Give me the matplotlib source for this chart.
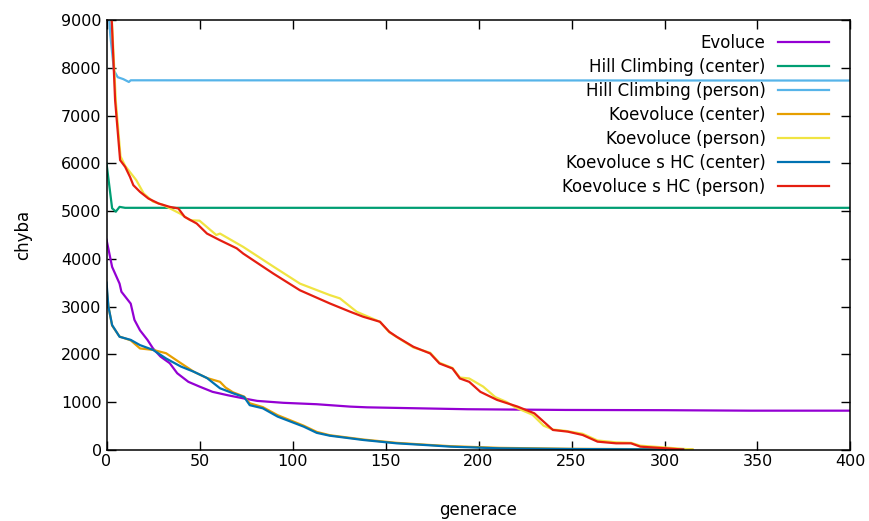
import matplotlib.pyplot as plt

# Evoluce
gen_evo = [0, 3, 7, 8, 13, 15, 18, 22, 25, 29, 34, 38, 44, 50, 57, 65, 74, 81, 95, 113, 131, 140, 160, 194, 247, 300, 346, 400]
err_evo = [4400, 3830, 3480, 3310, 3060, 2720, 2500, 2300, 2120, 1950, 1810, 1600, 1420, 1320, 1210, 1140, 1070, 1020, 980, 950, 900, 885, 870, 845, 830, 825, 815, 815]

# Hill Climbing (center)
gen_hc_c = [0, 3, 5, 7, 10, 400]
err_hc_c = [6000, 5060, 4990, 5090, 5070, 5070]

# Hill Climbing (person)
gen_hc_p = [0, 2, 4, 6, 9, 12, 13, 400]
err_hc_p = [10000, 8700, 7950, 7810, 7770, 7710, 7745, 7740]

# Koevoluce (center)
gen_ko_c = [0, 1, 3, 7, 13, 18, 25, 32, 40, 47, 54, 61, 64, 68, 74, 77, 84, 92, 99, 106, 113, 120, 138, 156, 174, 185, 211, 250, 300, 315]
err_ko_c = [3400, 3000, 2600, 2370, 2290, 2120, 2090, 2020, 1810, 1630, 1500, 1420, 1300, 1200, 1110, 970, 890, 720, 610, 500, 370, 300, 210, 140, 95, 70, 35, 15, 5, 0]

# Koevoluce (person)
gen_ko_p = [0, 3, 5, 7.5, 10, 16, 20, 25, 30.5, 39.5, 45, 50, 59, 61, 73.5, 90, 104, 120, 125.5, 134.5, 147, 152, 156, 165, 174, 179, 186, 190, 195, 202.5, 209, 215, 220, 229, 235, 240, 247, 256, 264, 274, 282, 287, 301, 315]
err_ko_p = [11500, 8900, 7300, 6150, 5950, 5650, 5370, 5200, 5130, 4950, 4810, 4800, 4500, 4530, 4250, 3830, 3480, 3240, 3170, 2890, 2680, 2460, 2360, 2140, 2030, 1820, 1710, 1510, 1490, 1320, 1100, 1000, 880, 730, 500, 420, 390, 330, 190, 150, 140, 80, 40, 0]

# Koevoluce s HC (center)
gen_kh_c = [0, 1, 3, 7, 13, 18, 25, 32, 40, 47, 54, 61, 68, 74, 77, 84, 92, 99, 106, 113, 120, 138, 156, 174, 185, 211, 250, 300, 310]
err_kh_c = [3500, 3000, 2610, 2365, 2300, 2190, 2090, 1910, 1740, 1630, 1500, 1285, 1180, 1100, 930, 865, 690, 585, 480, 350, 290, 200, 130, 88, 60, 25, 10, 3, 0]

# Koevoluce s HC (person)
gen_kh_p = [0, 2.8, 4.6, 6.4, 7.3, 10, 12.6, 14.4, 18, 22.5, 28, 34, 38.6, 42, 48.5, 54, 61, 70, 73.5, 89.7, 104, 120, 131, 138, 147, 152, 156, 165, 174, 179, 186, 190, 195, 201, 210, 221, 230, 240, 248, 256, 264, 274, 282, 287, 301, 310]
err_kh_p = [12000, 9000, 7330, 6490, 6070, 5930, 5720, 5545, 5405, 5265, 5160, 5090, 5057, 4880, 4740, 4530, 4390, 4220, 4110, 3690, 3340, 3065, 2890, 2785, 2680, 2470, 2365, 2155, 2015, 1805, 1700, 1490, 1420, 1210, 1040, 900, 760, 410, 375, 305, 165, 130, 130, 60, 25, 0]

series = [
    ("Evoluce", gen_evo, err_evo, "#9400d3"),
    ("Hill Climbing (center)", gen_hc_c, err_hc_c, "#009e73"),
    ("Hill Climbing (person)", gen_hc_p, err_hc_p, "#56b4e9"),
    ("Koevoluce (center)", gen_ko_c, err_ko_c, "#e69f00"),
    ("Koevoluce (person)", gen_ko_p, err_ko_p, "#f0e442"),
    ("Koevoluce s HC (center)", gen_kh_c, err_kh_c, "#0072b2"),
    ("Koevoluce s HC (person)", gen_kh_p, err_kh_p, "#e51e10"),
]

fig = plt.figure(figsize=(8.69, 5.21), dpi=100)
ax = fig.add_axes([0.1226, 0.1372, 0.8561, 0.8235])

for label, x, y, color in series:
    ax.plot(x, y, color=color, linewidth=1.6, label=label)

ax.set_xlim(0, 400)
ax.set_ylim(0, 9000)
ax.set_xticks(range(0, 401, 50))
ax.set_yticks(range(0, 9001, 1000))
ax.tick_params(direction="in", length=6.5, width=1, top=True, right=True, labelsize=11.5)
for s in ax.spines.values():
    s.set_linewidth(1.1)

ax.set_xlabel("generace", fontsize=12, labelpad=23)
ax.set_ylabel("chyba", fontsize=12, labelpad=21)

# legenda vpravo nahore, text pred carou jako v gnuplotu
ax.legend(loc="upper right", bbox_to_anchor=(0.9543, 0.9357), bbox_transform=fig.transFigure,
          frameon=False, markerfirst=False, fontsize=12, handlelength=3.1,
          handletextpad=0.72, labelspacing=0.36, borderpad=0, borderaxespad=0)

fig.savefig("out.png", dpi=100)
